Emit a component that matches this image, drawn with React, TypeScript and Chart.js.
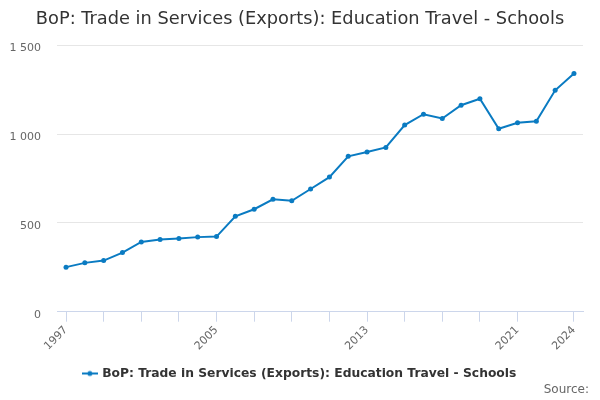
import { useEffect, useRef } from "react";
import { Chart, registerables } from "chart.js";

Chart.register(...registerables);

const years = [
  1997, 1998, 1999, 2000, 2001, 2002, 2003, 2004, 2005, 2006, 2007, 2008, 2009, 2010,
  2011, 2012, 2013, 2014, 2015, 2016, 2017, 2018, 2019, 2020, 2021, 2022, 2023, 2024,
];
const exportsValues = [
  251, 275, 288, 333, 393, 406, 412, 420, 423, 537, 577, 633, 625, 691,
  758, 875, 899, 925, 1051, 1112, 1088, 1163, 1199, 1030, 1064, 1073, 1247, 1341,
];
const tickYears = [1997, 1999, 2001, 2003, 2005, 2007, 2009, 2011, 2013, 2015, 2017, 2019, 2021, 2024];
const labelYears = [1997, 2005, 2013, 2021, 2024];

const seriesName = "BoP: Trade in Services (Exports): Education Travel - Schools";
const sourceText = "Source:";
const lineColor = "#0a7bc2";
const font = "'DejaVu Sans', Verdana, sans-serif";

function fmt(v: number) {
  return String(v).replace(/\B(?=(\d{3})+(?!\d))/g, " ");
}

function legendSymbol() {
  const c = document.createElement("canvas");
  c.width = 16;
  c.height = 8;
  const ctx = c.getContext("2d")!;
  ctx.strokeStyle = lineColor;
  ctx.lineWidth = 2;
  ctx.beginPath();
  ctx.moveTo(0, 4);
  ctx.lineTo(16, 4);
  ctx.stroke();
  ctx.fillStyle = lineColor;
  ctx.beginPath();
  ctx.arc(8, 4, 2.5, 0, Math.PI * 2);
  ctx.fill();
  return c;
}

// "Source:" credit in the bottom-right corner
const creditPlugin = {
  id: "credit",
  afterDraw(chart: any) {
    const ctx = chart.ctx;
    ctx.save();
    ctx.font = `12px ${font}`;
    ctx.fillStyle = "#666666";
    ctx.textAlign = "right";
    ctx.textBaseline = "middle";
    ctx.fillText(sourceText, chart.width - 11, chart.height - 10);
    ctx.restore();
  },
};

export default function App() {
  const canvasRef = useRef<HTMLCanvasElement | null>(null);

  useEffect(() => {
    if (!canvasRef.current) return;
    const chart = new Chart(canvasRef.current, {
      type: "line",
      data: {
        datasets: [
          {
            label: seriesName,
            data: years.map((y, i) => ({ x: y, y: exportsValues[i] })),
            borderColor: lineColor,
            backgroundColor: lineColor,
            borderWidth: 2,
            pointRadius: 2.5,
            pointBorderWidth: 0,
            tension: 0,
          },
        ],
      },
      plugins: [creditPlugin],
      options: {
        animation: false,
        responsive: true,
        maintainAspectRatio: false,
        layout: { padding: { left: 0, right: 0, top: 0, bottom: 10.4 } },
        plugins: {
          title: {
            display: true,
            text: seriesName,
            color: "#333333",
            font: { family: font, size: 17.8, weight: "normal" },
            padding: { top: 9, bottom: 15 },
          },
          legend: {
            position: "bottom",
            labels: {
              usePointStyle: true,
              pointStyle: legendSymbol(),
              color: "#333333",
              font: { family: font, size: 12.3, weight: "bold" },
              padding: 1,
            },
          },
          tooltip: { enabled: false },
        },
        scales: {
          x: {
            type: "linear",
            min: 1996.52,
            max: 2024.48,
            afterBuildTicks: (scale: any) => {
              scale.ticks = tickYears.map((v) => ({ value: v }));
            },
            afterFit: (scale: any) => {
              scale.height = 54.6;
            },
            ticks: {
              autoSkip: false,
              maxRotation: 45,
              minRotation: 45,
              color: "#666666",
              font: { family: font, size: 11 },
              padding: 2,
              callback: (v: any) => (labelYears.includes(Number(v)) ? String(v) : ""),
            },
            grid: {
              drawOnChartArea: false,
              drawTicks: true,
              tickLength: 10,
              color: "#ccd6eb",
            },
            border: { color: "#ccd6eb" },
          },
          y: {
            min: 0,
            max: 1500,
            afterFit: (scale: any) => {
              scale.width = 57;
            },
            ticks: {
              stepSize: 500,
              color: "#666666",
              font: { family: font, size: 11 },
              padding: 16,
              labelOffset: 3,
              callback: (v: any) => fmt(Number(v)),
            },
            grid: { color: "#e6e6e6", drawTicks: false },
            border: { display: false },
          },
          // empty right-hand gutter between the plot and the page edge
          gutter: {
            position: "right",
            display: true,
            afterFit: (scale: any) => {
              scale.width = 17;
            },
            ticks: { display: false },
            grid: { display: false },
            border: { display: false },
          },
        },
      },
    });
    return () => chart.destroy();
  }, []);

  return (
    <div style={{ position: "fixed", left: 0, top: 0, width: 600, height: 400, background: "#fff" }}>
      <canvas ref={canvasRef} />
    </div>
  );
}
